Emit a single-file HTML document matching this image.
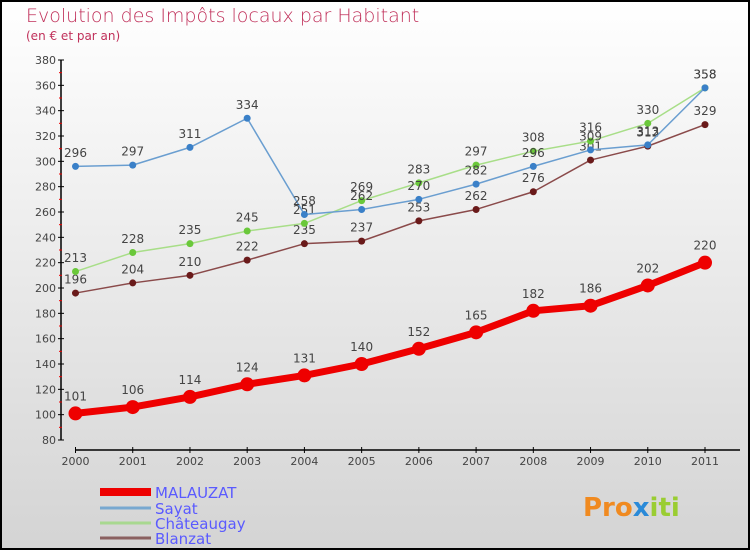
<!DOCTYPE html>
<html><head><meta charset="utf-8"><style>
html,body{margin:0;padding:0}
body{width:750px;height:550px;overflow:hidden;font-family:"DejaVu Sans","Liberation Sans",sans-serif}
svg{display:block}
</style></head><body>
<svg id="chart" width="750" height="550" xmlns="http://www.w3.org/2000/svg">
<defs><linearGradient id="bg" x1="0" y1="0" x2="0" y2="1"><stop offset="0" stop-color="#ffffff"/><stop offset="1" stop-color="#d4d4d4"/></linearGradient></defs>
<rect x="1" y="1" width="748" height="548" fill="url(#bg)" stroke="#000" stroke-width="2"/>
<text x="26" y="22" font-size="19" fill="#c0305a" font-weight="300">Evolution des Impôts locaux par Habitant</text>
<text x="26" y="40" font-size="12" fill="#c0305a">(en € et par an)</text>
<g id="axes"></g>
<g id="series"></g>
<g id="legend"></g>
<text x="583" y="516" font-size="26" font-weight="bold" fill="#f08a20">Pro<tspan fill="#2a8ad8">x</tspan><tspan fill="#9acd32">iti</tspan></text>
</svg>
<script>
const years = [2000,2001,2002,2003,2004,2005,2006,2007,2008,2009,2010,2011];
const yTicks = [80,100,120,140,160,180,200,220,240,260,280,300,320,340,360,380];
const malauzat = [101,106,114,124,131,140,152,165,182,186,202,220];
const sayat = [296,297,311,334,258,262,270,282,296,309,313,358];
const chateaugay = [213,228,235,245,251,269,283,297,308,316,330,358];
const blanzat = [196,204,210,222,235,237,253,262,276,301,312,329];

const NS="http://www.w3.org/2000/svg";
function xS(i){return 75.5+i*(705-75.5)/11;}
function yS(v){return 440-(v-80)*(380/300);}
function mk(tag,attrs,parent){const e=document.createElementNS(NS,tag);for(const k in attrs)e.setAttribute(k,attrs[k]);parent.appendChild(e);return e;}
const axes=document.getElementById('axes');
let yl=mk('line',{x1:61,y1:60,x2:61,y2:440,stroke:'#000','stroke-width':1.5},axes);


yTicks.forEach((t,i)=>{
  const y=yS(t);
  let tk=mk('line',{x1:58,y1:y,x2:64,y2:y,stroke:'#000'},axes);
  
  
  let lb=mk('text',{x:56,y:y+4,'text-anchor':'end','font-size':11,fill:'#444'},axes);
  lb.textContent=t;
  
  
  if(i<yTicks.length-1){
    let m=mk('line',{x1:59,y1:y-12.67,x2:62,y2:y-12.67,stroke:'#e00'},axes);
    
    
  }
});
let xl=mk('line',{x1:75,y1:450,x2:740,y2:450,stroke:'#000','stroke-width':1.5},axes);


years.forEach((yr,i)=>{
  const x=xS(i);
  let tk=mk('line',{x1:x,y1:447,x2:x,y2:453,stroke:'#000'},axes);
  
  
  let lb=mk('text',{x:x,y:465,'text-anchor':'middle','font-size':11,fill:'#444'},axes);
  lb.textContent=yr;
  
  
});
const ser=document.getElementById('series');
function draw(name,vals,color,dot,width,r,fs){
  const g=mk('g',{},ser);
  
  
  const pl=mk('polyline',{points:vals.map((v,i)=>xS(i)+','+yS(v)).join(' '),fill:'none',stroke:color,'stroke-width':width,'stroke-linejoin':'round'},g);
  
  
  vals.forEach((v,i)=>{
    const c=mk('circle',{cx:xS(i),cy:yS(v),r:r,fill:dot},g);
    
    
    const t=mk('text',{x:xS(i),y:yS(v)-(r+6),'text-anchor':'middle','font-size':fs,fill:'#444'},g);
    t.textContent=v;
    
    
  });
}
draw('blanzat',blanzat,'#8a4a4a','#6a1a1a',1.5,3.5,12);
draw('chateaugay',chateaugay,'#a8de88','#6ac83a',1.5,3.5,12);
draw('sayat',sayat,'#6a9ed0','#3a80c8',1.5,3.5,12);
draw('malauzat',malauzat,'#ee0000','#ee0000',7,7,12);
const leg=document.getElementById('legend');
const items=[['MALAUZAT','#ee0000',8,492],['Sayat','#78a8d0',3,508],['Châteaugay','#a8d890',3,523],['Blanzat','#8a6060',3,538]];
items.forEach(it=>{
  const g=mk('g',{},leg);
  
  
  const l=mk('line',{x1:100,y1:it[3],x2:151,y2:it[3],stroke:it[1],'stroke-width':it[2]},g);
  
  
  const t=mk('text',{x:155,y:it[3]+6,'font-size':15,fill:'#5a5aff'},g);
  t.textContent=it[0];
  
  
});
</script>
</body></html>
